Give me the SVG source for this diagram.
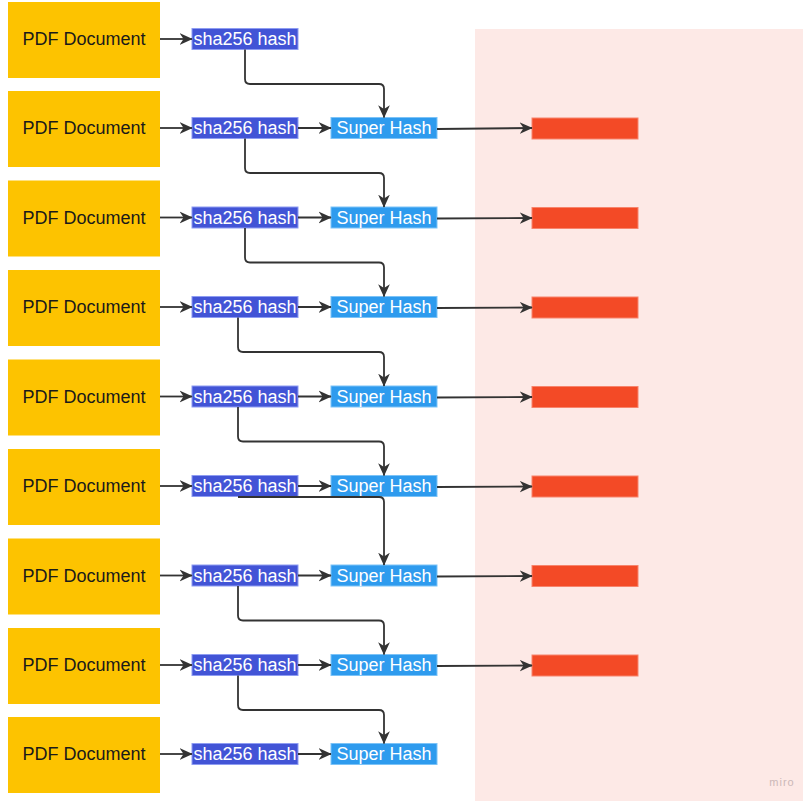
<svg xmlns="http://www.w3.org/2000/svg" width="803" height="801" viewBox="0 0 803 801">
  <style>
    .doc rect { fill: #fdc300; }
    .doc text { font-family: "Liberation Sans", Arial, sans-serif; font-size: 18px; fill: #1a1a1a; text-anchor: middle; dominant-baseline: central; }
    .sha rect { fill: #4254d6; stroke: #8e9cf2; stroke-width: 1; }
    .sup rect { fill: #2e9bee; stroke: #7cc3f7; stroke-width: 1; }
    .sha text, .sup text { font-family: "Liberation Sans", Arial, sans-serif; font-size: 18px; fill: #ffffff; text-anchor: middle; dominant-baseline: central; }
    .out rect { fill: #f34a26; stroke: #f7846c; stroke-width: 1; }
    .edge { fill: none; stroke: #333333; stroke-width: 1.8; marker-end: url(#arrow); }
  </style>
  <defs>
    <marker id="arrow" viewBox="0 0 10 10" refX="9.5" refY="5" markerWidth="13" markerHeight="13" markerUnits="userSpaceOnUse" orient="auto">
      <path d="M0,0.5 L10,5 L0,9.5 L3,5 z" fill="#333333"/>
    </marker>
  </defs>

  <rect width="803" height="801" fill="#ffffff"/>
  <!-- output area -->
  <rect x="475" y="29" width="328" height="772" fill="#fde9e6"/>
  <text x="782" y="786" font-family="'Liberation Sans', Arial, sans-serif" font-size="11" fill="#cbb8b8" text-anchor="middle" letter-spacing="1">miro</text>

  <!-- documents -->
  <g id="doc1" class="doc"><rect x="8" y="2" width="152" height="76"/><text x="84" y="39">PDF Document</text></g>
  <g id="doc2" class="doc"><rect x="8" y="91" width="152" height="76"/><text x="84" y="128">PDF Document</text></g>
  <g id="doc3" class="doc"><rect x="8" y="180.5" width="152" height="76"/><text x="84" y="217.5">PDF Document</text></g>
  <g id="doc4" class="doc"><rect x="8" y="270" width="152" height="76"/><text x="84" y="307">PDF Document</text></g>
  <g id="doc5" class="doc"><rect x="8" y="359.5" width="152" height="76"/><text x="84" y="396.5">PDF Document</text></g>
  <g id="doc6" class="doc"><rect x="8" y="449" width="152" height="76"/><text x="84" y="486">PDF Document</text></g>
  <g id="doc7" class="doc"><rect x="8" y="538.5" width="152" height="76"/><text x="84" y="575.5">PDF Document</text></g>
  <g id="doc8" class="doc"><rect x="8" y="628" width="152" height="76"/><text x="84" y="665">PDF Document</text></g>
  <g id="doc9" class="doc"><rect x="8" y="717" width="152" height="76"/><text x="84" y="754">PDF Document</text></g>

  <!-- sha256 hashes -->
  <g id="sha1" class="sha"><rect x="192" y="28.5" width="106" height="21"/><text x="245" y="39">sha256 hash</text></g>
  <g id="sha2" class="sha"><rect x="192" y="117.5" width="106" height="21"/><text x="245" y="128">sha256 hash</text></g>
  <g id="sha3" class="sha"><rect x="192" y="207" width="106" height="21"/><text x="245" y="217.5">sha256 hash</text></g>
  <g id="sha4" class="sha"><rect x="192" y="296.5" width="106" height="21"/><text x="245" y="307">sha256 hash</text></g>
  <g id="sha5" class="sha"><rect x="192" y="386" width="106" height="21"/><text x="245" y="396.5">sha256 hash</text></g>
  <g id="sha6" class="sha"><rect x="192" y="475.5" width="106" height="21"/><text x="245" y="486">sha256 hash</text></g>
  <g id="sha7" class="sha"><rect x="192" y="565" width="106" height="21"/><text x="245" y="575.5">sha256 hash</text></g>
  <g id="sha8" class="sha"><rect x="192" y="654.5" width="106" height="21"/><text x="245" y="665">sha256 hash</text></g>
  <g id="sha9" class="sha"><rect x="192" y="743.5" width="106" height="21"/><text x="245" y="754">sha256 hash</text></g>

  <!-- super hashes -->
  <g id="super2" class="sup"><rect x="331" y="117.5" width="106" height="21"/><text x="384" y="128">Super Hash</text></g>
  <g id="super3" class="sup"><rect x="331" y="207" width="106" height="21"/><text x="384" y="217.5">Super Hash</text></g>
  <g id="super4" class="sup"><rect x="331" y="296.5" width="106" height="21"/><text x="384" y="307">Super Hash</text></g>
  <g id="super5" class="sup"><rect x="331" y="386" width="106" height="21"/><text x="384" y="396.5">Super Hash</text></g>
  <g id="super6" class="sup"><rect x="331" y="475.5" width="106" height="21"/><text x="384" y="486">Super Hash</text></g>
  <g id="super7" class="sup"><rect x="331" y="565" width="106" height="21"/><text x="384" y="575.5">Super Hash</text></g>
  <g id="super8" class="sup"><rect x="331" y="654.5" width="106" height="21"/><text x="384" y="665">Super Hash</text></g>
  <g id="super9" class="sup"><rect x="331" y="743.5" width="106" height="21"/><text x="384" y="754">Super Hash</text></g>

  <!-- outputs -->
  <g id="out2" class="out"><rect x="532" y="118" width="106" height="21"/></g>
  <g id="out3" class="out"><rect x="532" y="207.5" width="106" height="21"/></g>
  <g id="out4" class="out"><rect x="532" y="297" width="106" height="21"/></g>
  <g id="out5" class="out"><rect x="532" y="386.5" width="106" height="21"/></g>
  <g id="out6" class="out"><rect x="532" y="476" width="106" height="21"/></g>
  <g id="out7" class="out"><rect x="532" y="565.5" width="106" height="21"/></g>
  <g id="out8" class="out"><rect x="532" y="655" width="106" height="21"/></g>

  <g id="connectors">
    <!-- document to sha256 -->
    <path class="edge" d="M160,39 H192"/>
    <path class="edge" d="M160,128 H192"/>
    <path class="edge" d="M160,217.5 H192"/>
    <path class="edge" d="M160,307 H192"/>
    <path class="edge" d="M160,396.5 H192"/>
    <path class="edge" d="M160,486 H192"/>
    <path class="edge" d="M160,575.5 H192"/>
    <path class="edge" d="M160,665 H192"/>
    <path class="edge" d="M160,754 H192"/>

    <!-- sha256 to super hash, same row -->
    <path class="edge" d="M298,128 H331"/>
    <path class="edge" d="M298,217.5 H331"/>
    <path class="edge" d="M298,307 H331"/>
    <path class="edge" d="M298,396.5 H331"/>
    <path class="edge" d="M298,486 H331"/>
    <path class="edge" d="M298,575.5 H331"/>
    <path class="edge" d="M298,665 H331"/>
    <path class="edge" d="M298,754 H331"/>

    <!-- sha256 to next row's super hash -->
    <path class="edge" d="M245,49.5 V79 Q245,84 250,84 H379 Q384,84 384,89 V117.5"/>
    <path class="edge" d="M245,138.5 V168 Q245,173 250,173 H379 Q384,173 384,178 V207"/>
    <path class="edge" d="M245,228 V257.5 Q245,262.5 250,262.5 H379 Q384,262.5 384,267.5 V296.5"/>
    <path class="edge" d="M238,317.5 V347 Q238,352 243,352 H379 Q384,352 384,357 V386"/>
    <path class="edge" d="M238,407 V436.5 Q238,441.5 243,441.5 H379 Q384,441.5 384,446.5 V475.5"/>
    <path class="edge" d="M238,497 H379 Q384,497 384,502 V565"/>
    <path class="edge" d="M238,586 V615.5 Q238,620.5 243,620.5 H379 Q384,620.5 384,625.5 V654.5"/>
    <path class="edge" d="M238,675.5 V705 Q238,710 243,710 H379 Q384,710 384,715 V743.5"/>

    <!-- super hash to output -->
    <path class="edge" d="M437,129 L532,128"/>
    <path class="edge" d="M437,218.5 L532,218"/>
    <path class="edge" d="M437,308 L532,307.5"/>
    <path class="edge" d="M437,397.5 L532,397"/>
    <path class="edge" d="M437,487 L532,486.5"/>
    <path class="edge" d="M437,576.5 L532,576"/>
    <path class="edge" d="M437,666 L532,665.5"/>
  </g>
</svg>
